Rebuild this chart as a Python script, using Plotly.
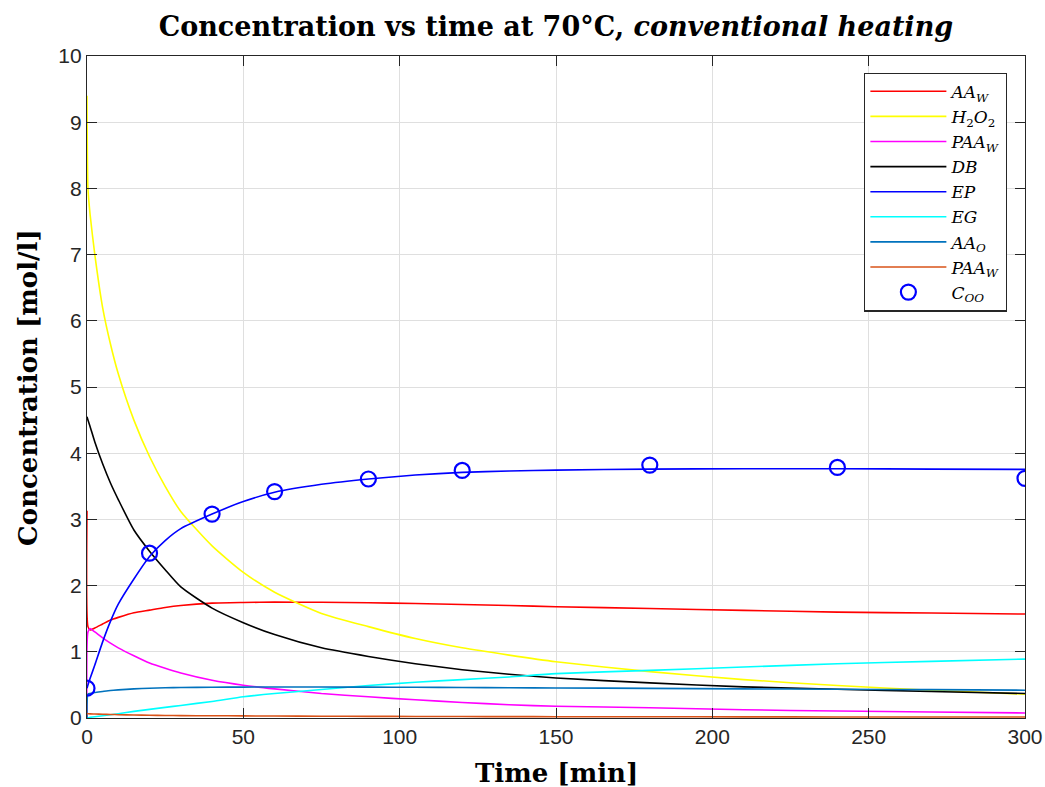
import plotly.graph_objects as go

# Time grid of the simulated profiles [min]
t_model = [0, 0.3, 1, 2.5, 5, 7.5, 10, 15, 20, 25, 30, 40, 50, 60, 75, 90,
           105, 120, 135, 150, 180, 210, 240, 270, 300]

# Simulated concentrations [mol/l]
aa_w = [3.13, 1.38, 1.33, 1.36, 1.42, 1.48, 1.52, 1.59, 1.63, 1.67, 1.70, 1.735,
        1.745, 1.75, 1.748, 1.74, 1.73, 1.715, 1.70, 1.68, 1.655, 1.625, 1.60,
        1.585, 1.57]
h2o2 = [9.4, 8.0, 7.6, 7.0, 6.2, 5.65, 5.2, 4.5, 3.95, 3.5, 3.12, 2.6, 2.2,
        1.9, 1.58, 1.38, 1.2, 1.06, 0.95, 0.85, 0.7, 0.58, 0.49, 0.42, 0.36]
paa_w = [0.0, 1.3, 1.35, 1.3, 1.21, 1.13, 1.06, 0.94, 0.83, 0.75, 0.68, 0.57,
         0.495, 0.44, 0.37, 0.32, 0.275, 0.235, 0.2, 0.178, 0.155, 0.125, 0.105,
         0.09, 0.076]
db = [4.55, 4.5, 4.4, 4.17, 3.84, 3.55, 3.3, 2.84, 2.52, 2.24, 1.98, 1.66, 1.44,
      1.26, 1.06, 0.93, 0.82, 0.73, 0.66, 0.605, 0.53, 0.47, 0.435, 0.40, 0.37]
ep = [0.45, 0.5, 0.6, 0.8, 1.15, 1.46, 1.72, 2.1, 2.44, 2.68, 2.86, 3.08, 3.27,
      3.41, 3.53, 3.61, 3.67, 3.71, 3.73, 3.745, 3.76, 3.765, 3.765, 3.76, 3.755]
eg = [0.0, 0.005, 0.01, 0.02, 0.035, 0.05, 0.065, 0.1, 0.13, 0.16, 0.19, 0.25,
      0.32, 0.37, 0.43, 0.49, 0.54, 0.58, 0.62, 0.67, 0.72, 0.77, 0.82, 0.855,
      0.89]
aa_o = [0.0, 0.36, 0.37, 0.385, 0.40, 0.415, 0.425, 0.44, 0.45, 0.457, 0.46,
        0.465, 0.467, 0.468, 0.468, 0.466, 0.464, 0.461, 0.457, 0.454, 0.448,
        0.44, 0.435, 0.428, 0.42]
paa_o = [0.066, 0.065, 0.062, 0.06, 0.057, 0.054, 0.05, 0.045, 0.041, 0.038,
         0.036, 0.034, 0.032, 0.03, 0.027, 0.025, 0.023, 0.022, 0.021, 0.02,
         0.019, 0.017, 0.016, 0.015, 0.015]

# Measured oxirane oxygen concentration
t_meas = [0, 20, 40, 60, 90, 120, 180, 240, 300]
c_oo = [0.45, 2.49, 3.08, 3.42, 3.61, 3.74, 3.82, 3.785, 3.62]

x_ticks = [0, 50, 100, 150, 200, 250, 300]
y_ticks = list(range(0, 11))

SERIF = "DejaVu Serif, Liberation Serif, serif"

series = [
    ("<i>AA</i><sub><i>W</i></sub>", aa_w, "#FF0000"),
    ("<i>H</i><sub>2</sub><i>O</i><sub>2</sub>", h2o2, "#FFFF00"),
    ("<i>PAA</i><sub><i>W</i></sub>", paa_w, "#FF00FF"),
    ("<i>DB</i>", db, "#000000"),
    ("<i>EP</i>", ep, "#0000FF"),
    ("<i>EG</i>", eg, "#00FFFF"),
    ("<i>AA</i><sub><i>O</i></sub>", aa_o, "#0072BD"),
    ("<i>PAA</i><sub><i>W</i></sub>", paa_o, "#D95319"),
]

fig = go.Figure()
for name, vals, color in series:
    fig.add_trace(go.Scatter(x=t_model, y=vals, mode="lines", name=name,
                             line=dict(color=color, width=1.6, shape="spline",
                                       smoothing=0.6)))

fig.add_trace(go.Scatter(x=t_meas, y=c_oo, mode="markers",
                         name="<i>C</i><sub><i>OO</i></sub>",
                         marker=dict(symbol="circle-open", size=15,
                                     color="#0000FF", line=dict(width=2.2))))

axis_common = dict(
    showgrid=True, gridcolor="#dfdfdf", gridwidth=1,
    showline=True, linecolor="#262626", linewidth=1.2, mirror="ticks",
    ticks="inside", ticklen=10, tickcolor="#262626", tickwidth=1.2,
    tickfont=dict(family="Liberation Sans, Arial", size=21, color="#262626"),
    zeroline=False, automargin=False,
)

fig.update_layout(
    width=1045, height=787,
    margin=dict(l=87, r=20, t=56, b=69),
    paper_bgcolor="white", plot_bgcolor="white",
    title=dict(
        text="<b>Concentration vs time at 70°C, <i>conventional heating</i></b>",
        font=dict(family=SERIF, size=27, color="#000000"),
        x=0.532, xanchor="center", y=1 - 27 / 787, yanchor="middle",
        yref="container",
    ),
    xaxis=dict(range=[0, 300], tickvals=x_ticks, **axis_common),
    yaxis=dict(range=[0, 10], tickvals=y_ticks, **axis_common),
    legend=dict(
        x=0.981, xanchor="right", y=0.975, yanchor="top",
        bgcolor="white", bordercolor="#262626", borderwidth=1.2,
        font=dict(family=SERIF, size=17, color="#000000"),
        tracegroupgap=0, itemwidth=76,
    ),
    showlegend=True,
    annotations=[
        dict(text="<b>Time [min]</b>", xref="paper", yref="paper",
             x=0.5, y=-0.083, xanchor="center", yanchor="middle",
             showarrow=False,
             font=dict(family=SERIF, size=26, color="#000000")),
        dict(text="<b>Concentration [mol/l]</b>", xref="paper", yref="paper",
             x=-0.063, y=0.5, xanchor="center", yanchor="middle",
             textangle=-90, showarrow=False,
             font=dict(family=SERIF, size=26, color="#000000")),
    ],
)

fig.write_html("out.html")
